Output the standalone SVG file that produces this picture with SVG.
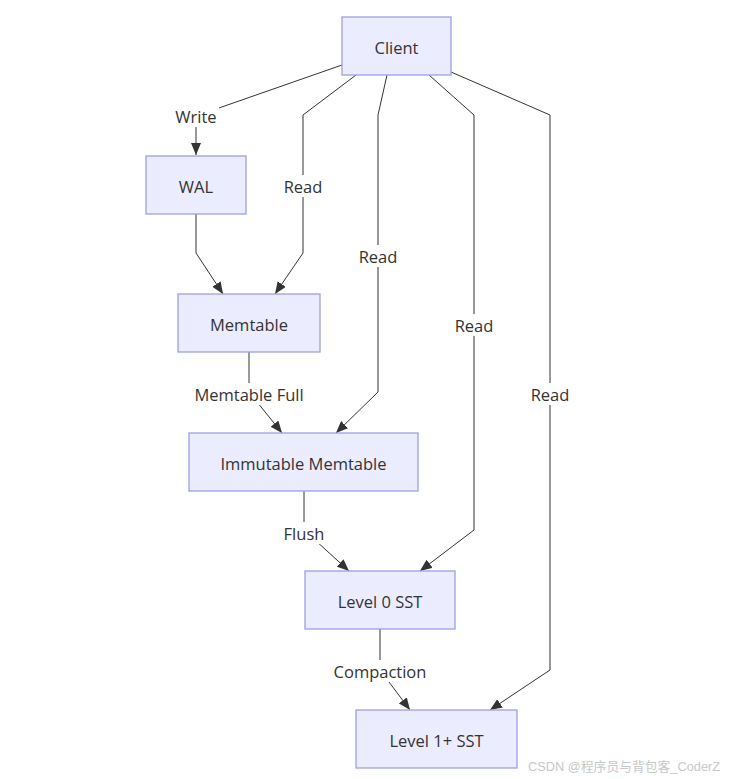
<svg xmlns="http://www.w3.org/2000/svg" width="734" height="779" viewBox="0 0 734 779">
<style>
.node rect{fill:#ECECFF;stroke:#9f9fe6;stroke-width:1.3}
.node text,.lbl text{font-family:"Open Sans","Noto Sans","Liberation Sans",sans-serif;font-size:16.5px;fill:#333;text-anchor:middle;dominant-baseline:central}
.edge{fill:none;stroke:#333;stroke-width:1;marker-end:url(#arr)}
.lbl rect{fill:#fff}
.wm{font-family:"Liberation Sans","Noto Sans CJK SC",sans-serif;font-size:12.8px;fill:#c8c8c8}
</style>
<defs>
<marker id="arr" markerUnits="userSpaceOnUse" viewBox="0 0 12 10" refX="12" refY="5" markerWidth="12" markerHeight="10" orient="auto">
<path d="M0,0 L12,5 L0,10 z" fill="#333"/>
</marker>
</defs>
<rect width="734" height="779" fill="#fff"/>
<g id="connectors">
<path class="edge" d="M342,65 L196,116 L196,155"/>
<path class="edge" d="M196,214 L196,253 L223,294"/>
<path class="edge" d="M356,75 L303,115 L303,253 L275,294"/>
<path class="edge" d="M387,75 L378,115 L378,392 L336,433"/>
<path class="edge" d="M429,75 L474,115 L474,530 L420,571"/>
<path class="edge" d="M451,72 L550,115 L550,670 L490,710"/>
<path class="edge" d="M249,352 L249,392 L282,433"/>
<path class="edge" d="M304,491 L304,530 L349,571"/>
<path class="edge" d="M380,629 L380,670 L410,710"/>
</g>
<g id="edge-labels">
<g class="lbl"><rect x="173" y="105" width="46" height="22"/><text x="196" y="116">Write</text></g>
<g class="lbl"><rect x="282" y="175" width="42" height="22"/><text x="303" y="186">Read</text></g>
<g class="lbl"><rect x="357" y="245" width="42" height="22"/><text x="378" y="256">Read</text></g>
<g class="lbl"><rect x="453" y="314" width="42" height="22"/><text x="474" y="325">Read</text></g>
<g class="lbl"><rect x="529" y="383" width="42" height="22"/><text x="550" y="394">Read</text></g>
<g class="lbl"><rect x="192" y="383" width="114" height="22"/><text x="249" y="394">Memtable Full</text></g>
<g class="lbl"><rect x="282" y="522" width="44" height="22"/><text x="304" y="533">Flush</text></g>
<g class="lbl"><rect x="331" y="660" width="98" height="22"/><text x="380" y="671">Compaction</text></g>
</g>
<g id="client" class="node"><rect x="342" y="17" width="109" height="58"/><text x="396.5" y="47">Client</text></g>
<g id="wal" class="node"><rect x="146" y="156" width="100" height="58"/><text x="196" y="186">WAL</text></g>
<g id="memtable" class="node"><rect x="178" y="294" width="142" height="58"/><text x="249" y="324">Memtable</text></g>
<g id="immutable" class="node"><rect x="189" y="433" width="229" height="58"/><text x="303.5" y="463">Immutable Memtable</text></g>
<g id="level0" class="node"><rect x="305" y="571" width="150" height="58"/><text x="380" y="601">Level 0 SST</text></g>
<g id="level1" class="node"><rect x="356" y="710" width="161" height="58"/><text x="436.5" y="740">Level 1+ SST</text></g>
<text class="wm" x="528" y="771">CSDN @程序员与背包客_CoderZ</text>
</svg>
